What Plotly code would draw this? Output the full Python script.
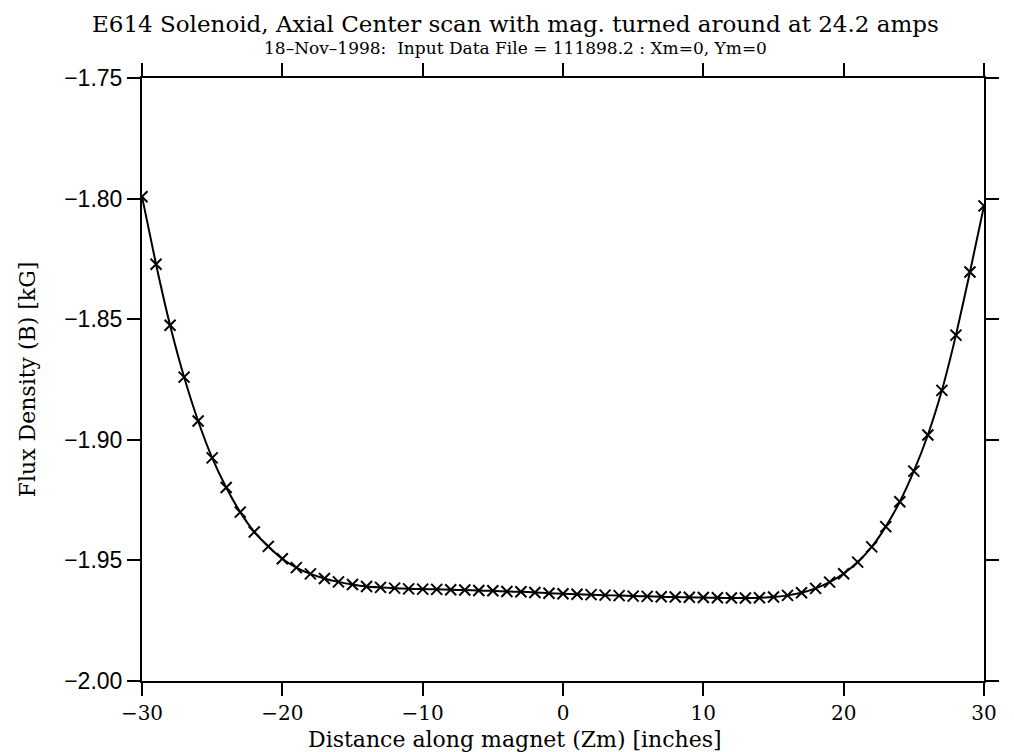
import plotly.graph_objects as go

# Axial scan positions along the magnet (inches)
zm_inches = list(range(-30, 31))

# Measured flux density at each position (kG)
flux_kg = [
    -1.7992, -1.8272, -1.8525, -1.8740, -1.8922, -1.9075, -1.9198, -1.9300,
    -1.9382, -1.9442, -1.9493, -1.9530, -1.9556, -1.9575, -1.9589, -1.9600,
    -1.9608, -1.9612, -1.9615, -1.9618, -1.9619, -1.9620, -1.9622, -1.9623,
    -1.9625, -1.9626, -1.9629, -1.9630, -1.9633, -1.9636,
    -1.9638, -1.9640, -1.9642, -1.9644, -1.9646, -1.9648, -1.9649, -1.9651,
    -1.9652, -1.9653, -1.9654, -1.9655, -1.9656, -1.9656, -1.9655, -1.9652,
    -1.9645, -1.9634, -1.9616, -1.9590, -1.9555, -1.9507, -1.9444, -1.9360,
    -1.9257, -1.9130, -1.8980, -1.8795, -1.8566, -1.8304, -1.8030,
]

x_ticks = [-30, -20, -10, 0, 10, 20, 30]
y_ticks = [-2.00, -1.95, -1.90, -1.85, -1.80, -1.75]

title_line1 = "E614 Solenoid, Axial Center scan with mag. turned around at 24.2 amps"
title_line2 = "18\u2013Nov\u20131998:  Input Data File = 111898.2 : Xm=0, Ym=0"
x_title = "Distance along magnet (Zm) [inches]"
y_title = "Flux Density (B) [kG]"

serif = "DejaVu Serif"
sans = "Liberation Sans"

fig = go.Figure()
fig.add_trace(go.Scatter(
    x=zm_inches,
    y=flux_kg,
    mode="lines+markers",
    line=dict(color="black", width=2, shape="spline", smoothing=0.6),
    marker=dict(symbol="x-thin", size=11, color="black",
                line=dict(color="black", width=2)),
    showlegend=False,
))

axis_common = dict(
    showline=True, linecolor="black", linewidth=2, mirror="allticks",
    ticks="outside", ticklen=13, tickwidth=2, tickcolor="black",
    showgrid=False, zeroline=False,
)

fig.update_xaxes(
    range=[-30, 30], tickvals=x_ticks,
    tickfont=dict(family=serif, size=20, color="black"),
    **axis_common,
)
fig.update_yaxes(
    range=[-2.00, -1.75], tickvals=y_ticks, tickformat=".2f",
    tickfont=dict(family=sans, size=23, color="black"),
    title=dict(text=y_title, font=dict(family=serif, size=22, color="black"),
               standoff=22),
    **axis_common,
)

# Page title (two lines) and x-axis caption, centred on the page
page_cx = (515 - 142) / 842
fig.add_annotation(
    text=title_line1, xref="paper", yref="paper", x=page_cx, y=1.0,
    yshift=54, xanchor="center", yanchor="middle", showarrow=False,
    font=dict(family=serif, size=23, color="black"),
)
fig.add_annotation(
    text=title_line2, xref="paper", yref="paper", x=page_cx, y=1.0,
    yshift=30, xanchor="center", yanchor="middle", showarrow=False,
    font=dict(family=serif, size=17, color="black"),
)
fig.add_annotation(
    text=x_title, xref="paper", yref="paper", x=page_cx, y=0.0,
    yshift=-58, xanchor="center", yanchor="middle", showarrow=False,
    font=dict(family=serif, size=22, color="black"),
)

fig.update_layout(
    width=1014, height=752,
    margin=dict(l=142, r=30, t=78, b=71),
    paper_bgcolor="white", plot_bgcolor="white",
)

fig.write_html("out.html")
